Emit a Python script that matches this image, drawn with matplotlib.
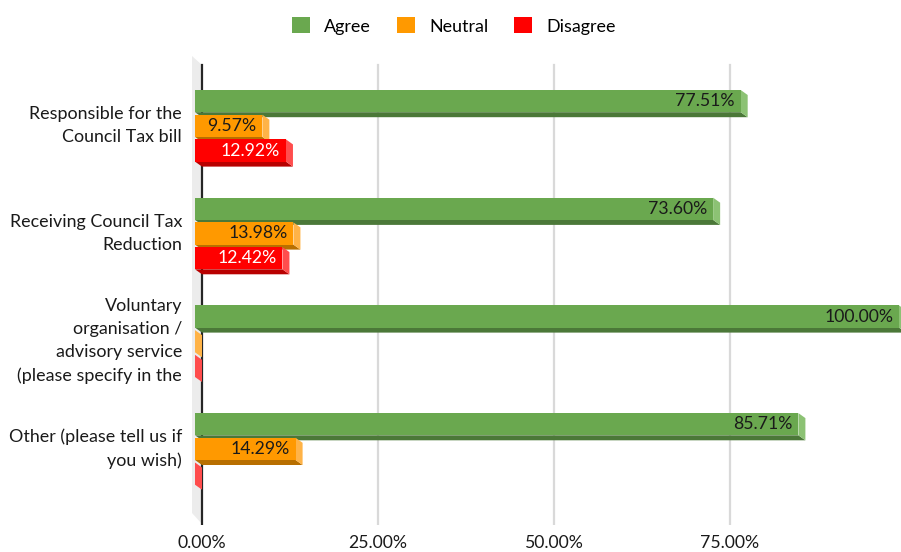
import matplotlib
matplotlib.use("Agg")
import matplotlib.pyplot as plt
from matplotlib.patches import Polygon, Patch

categories = [
    "Responsible for the\nCouncil Tax bill",
    "Receiving Council Tax\nReduction",
    "Voluntary\norganisation /\nadvisory service\n(please specify in the",
    "Other (please tell us if\nyou wish)",
]
series_names = ["Agree", "Neutral", "Disagree"]
agree = [77.51, 73.60, 100.00, 85.71]
neutral = [9.57, 13.98, 0.0, 14.29]
disagree = [12.92, 12.42, 0.0, 0.0]
xticks = [0, 25, 50, 75]
xticklabels = ["0.00%", "25.00%", "50.00%", "75.00%"]

series = [agree, neutral, disagree]
front_cols = ["#6AA84F", "#FF9900", "#FF0000"]
side_cols = ["#8CC274", "#FFB347", "#FF4D4D"]
bottom_cols = ["#4B7838", "#B86F00", "#B80000"]
label_cols = ["#1a1a1a", "#1a1a1a", "white"]

FONT = "Lato"
plt.rcParams["font.family"] = [FONT, "DejaVu Sans"]

W, H = 901, 552
fig = plt.figure(figsize=(W / 100, H / 100), dpi=100)
ax_l, ax_r, ax_t, ax_b = 188, 901, 55, 525
ax = fig.add_axes([ax_l / W, 1 - ax_b / H, (ax_r - ax_l) / W, (ax_b - ax_t) / H])

px_per_pct = 176 / 25.0
x0_px = 202
ax.set_xlim(-(x0_px - ax_l) / px_per_pct, (ax_r - x0_px) / px_per_pct)
c0, spacing = 125.8, 107.7
ax.set_ylim((ax_b - c0) / spacing, (ax_t - c0) / spacing)

pitch = 24.7 / spacing
fh = 22.2 / spacing
dy = 5.0 / spacing
dx = 7.0 / px_per_pct

for s in ax.spines.values():
    s.set_visible(False)
ax.set_xticks([])
ax.set_yticks([])

gy0, gy1 = (65 - c0) / spacing, (524 - c0) / spacing
# back wall
wx = -(x0_px - 192) / px_per_pct
ax.add_patch(Polygon([(wx, (56 - c0) / spacing), (0, gy0), (0, gy1), (wx, (513 - c0) / spacing)],
                     closed=True, facecolor="#ECECEC", edgecolor="none", zorder=0))
for xt in xticks[1:]:
    ax.plot([xt, xt], [gy0, gy1], color="#D9D9D9", lw=1.6, zorder=1)
ax.plot([0, 0], [gy0, gy1], color="#262626", lw=1.6, zorder=1)

for i in range(len(categories)):
    for k, vals in enumerate(series):
        v = vals[i]
        yc = i + (k - 1) * pitch
        yt, yb = yc - fh / 2, yc + fh / 2
        # bottom face
        ax.add_patch(Polygon([(-dx, yb), (v - dx, yb), (v, yb + dy), (0, yb + dy)],
                             closed=True, facecolor=bottom_cols[k], edgecolor="none", zorder=2 + k))
        # side face
        ax.add_patch(Polygon([(v - dx, yt), (v, yt + dy), (v, yb + dy), (v - dx, yb)],
                             closed=True, facecolor=side_cols[k], edgecolor="none", zorder=2 + k))
        # front face
        if v > 0:
            ax.barh(yc, v, left=-dx, height=fh, color=front_cols[k], zorder=2 + k)
            ax.text(v - dx - 0.85, yc, f"{v:.2f}%", ha="right", va="center",
                    fontsize=12.7, color=label_cols[k], zorder=10)

# category labels
for i, cat in enumerate(categories):
    ax.text(-(x0_px - 182) / px_per_pct, i, cat, ha="right", va="center",
            fontsize=12.9, color="#1a1a1a", linespacing=1.55, clip_on=False)

# x tick labels
for xt, lab in zip(xticks, xticklabels):
    ax.text(xt, (543 - c0) / spacing, lab, ha="center", va="center",
            fontsize=12.7, color="#1a1a1a", clip_on=False)

handles = [Patch(facecolor=c, edgecolor="none") for c in front_cols]
fig.legend(handles, series_names, loc="center", bbox_to_anchor=(454 / W, 1 - 26 / H),
           ncol=3, frameon=False, fontsize=12.9, handlelength=1.0, handleheight=1.0,
           columnspacing=1.45, handletextpad=0.8)

fig.savefig("out.png", dpi=100)
